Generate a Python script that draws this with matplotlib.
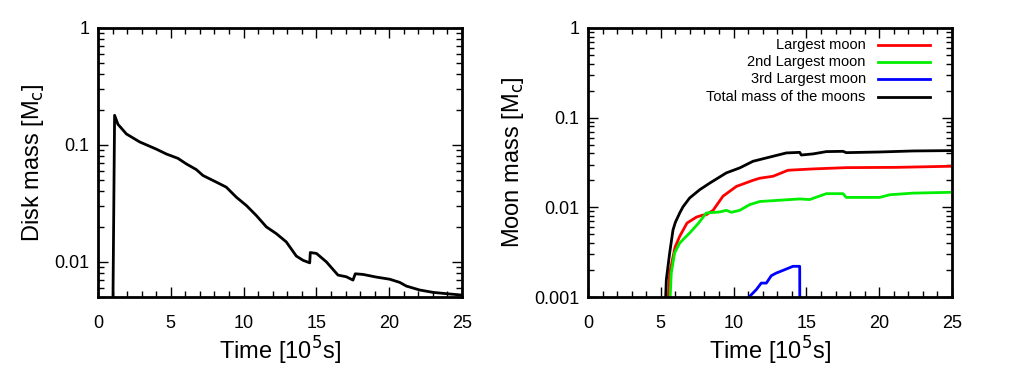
import matplotlib
matplotlib.use("Agg")
import matplotlib.pyplot as plt
from matplotlib.ticker import FixedLocator, FixedFormatter, LogLocator, MultipleLocator, NullFormatter

plt.rcParams['font.family'] = ['Liberation Sans', 'DejaVu Sans']

# Disk mass (left panel)
disk_t = [1.03, 1.03, 1.14, 1.37, 1.95, 2.86, 4.0, 4.69, 5.49, 6.07, 6.75, 7.21, 8.13, 8.81,
          9.5, 10.19, 10.87, 11.56, 12.25, 12.93, 13.62, 14.08, 14.54, 14.58, 15.0, 15.68,
          16.48, 17.05, 17.51, 17.67, 18.2, 19.12, 20.03, 20.72, 21.18, 22.09, 23.0, 23.92, 24.95]
disk_m = [0.001, 0.005, 0.179, 0.150, 0.124, 0.106, 0.092, 0.0836, 0.0767, 0.0687, 0.0615, 0.0547,
          0.048, 0.0435, 0.0357, 0.0303, 0.0249, 0.0199, 0.0174, 0.0148, 0.0112, 0.0103, 0.0098,
          0.012, 0.0118, 0.0100, 0.0077, 0.00745, 0.00698, 0.0079, 0.0078, 0.0074, 0.0071,
          0.00667, 0.0062, 0.00574, 0.00548, 0.00534, 0.0052]

# Moon masses (right panel)
total_t = [5.27, 5.38, 5.61, 5.84, 6.0, 6.30, 6.52, 6.98, 7.67, 8.38, 9.5, 10.42, 11.33, 12.71,
           13.62, 14.54, 14.65, 15.45, 16.37, 17.51, 17.74, 20.03, 22.32, 24.95]
total_m = [0.0005, 0.00156, 0.0031, 0.0056, 0.0068, 0.00865, 0.0101, 0.0127, 0.0157, 0.0187,
           0.0242, 0.0275, 0.0326, 0.0371, 0.0404, 0.041, 0.0383, 0.0394, 0.0418, 0.0421, 0.0407,
           0.0414, 0.0425, 0.0429]

largest_t = [5.43, 5.61, 5.98, 6.30, 6.8, 7.46, 7.9, 8.13, 8.59, 9.27, 10.19, 11.33, 11.79, 12.71,
             13.74, 15.45, 17.74, 21.18, 24.95]
largest_m = [0.0005, 0.00185, 0.0036, 0.00475, 0.00668, 0.0078, 0.0082, 0.00828, 0.00926, 0.0133,
             0.0171, 0.020, 0.0211, 0.0222, 0.0259, 0.0268, 0.0277, 0.0279, 0.0287]

second_t = [5.56, 5.72, 5.95, 6.30, 6.98, 7.56, 8.13, 9.04, 9.5, 9.84, 10.42, 11.1, 11.79, 13.16,
            14.54, 15.22, 16.37, 17.51, 17.74, 20.03, 20.72, 22.32, 24.95]
second_m = [0.0005, 0.00185, 0.0031, 0.004, 0.00517, 0.00657, 0.00865, 0.00887, 0.00926, 0.0088,
            0.00926, 0.0107, 0.0116, 0.012, 0.0124, 0.0122, 0.0142, 0.0142, 0.0129, 0.0129, 0.0138,
            0.0144, 0.0147]

third_t = [11.06, 11.56, 11.9, 12.25, 12.59, 12.93, 13.39, 14.08, 14.54, 14.55]
third_m = [0.001, 0.00121, 0.00143, 0.00143, 0.00173, 0.00185, 0.00198, 0.0022, 0.0022, 0.0005]

legend_labels = ["Largest moon", "2nd Largest moon", "3rd Largest moon", "Total mass of the moons"]
legend_colors = ["#ff0000", "#00ee00", "#0000ff", "black"]

fig = plt.figure(figsize=(10.24, 3.88), dpi=100)
ax1 = fig.add_axes([0.0957, 0.2345, 0.3555, 0.6935])
ax2 = fig.add_axes([0.5742, 0.2345, 0.3555, 0.6935])


def style(ax, ymin, yticks, ylabels):
    ax.set_yscale('log')
    ax.set_xlim(0, 25)
    ax.set_ylim(ymin, 1)
    ax.xaxis.set_major_locator(MultipleLocator(5))
    ax.xaxis.set_minor_locator(MultipleLocator(1))
    ax.yaxis.set_major_locator(FixedLocator(yticks))
    ax.yaxis.set_major_formatter(FixedFormatter(ylabels))
    ax.yaxis.set_minor_locator(LogLocator(base=10, subs=range(2, 10)))
    ax.yaxis.set_minor_formatter(NullFormatter())
    ax.tick_params(which='both', direction='in', top=True, right=True, labelsize=13, width=1)
    ax.tick_params(which='major', length=7)
    ax.tick_params(which='minor', length=4)
    ax.tick_params(axis='x', which='major', pad=13)
    ax.tick_params(axis='y', which='major', pad=6)
    for s in ax.spines.values():
        s.set_linewidth(2)
    ax.set_xlabel(r"Time [10$^5$s]", fontsize=17, labelpad=2)


ax1.plot(disk_t, disk_m, color='black', lw=2)
style(ax1, 0.005, [0.01, 0.1, 1], ["0.01", "0.1", "1"])
ax1.set_ylabel(r"Disk mass [M$_\mathrm{c}$]", fontsize=17, labelpad=6)

ax2.plot(largest_t, largest_m, color=legend_colors[0], lw=2)
ax2.plot(second_t, second_m, color=legend_colors[1], lw=2)
ax2.plot(third_t, third_m, color=legend_colors[2], lw=2)
ax2.plot(total_t, total_m, color=legend_colors[3], lw=2)
style(ax2, 0.001, [0.001, 0.01, 0.1, 1], ["0.001", "0.01", "0.1", "1"])
ax2.set_ylabel(r"Moon mass [M$_\mathrm{c}$]", fontsize=17, labelpad=6)

# gnuplot-style key: right-aligned text, sample line on the right
for i, (lab, col) in enumerate(zip(legend_labels, legend_colors)):
    yy = 0.937 - i * 0.064
    ax2.text(0.763, yy, lab, transform=ax2.transAxes, ha='right', va='center', fontsize=10.5)
    ax2.plot([0.797, 0.94], [yy, yy], transform=ax2.transAxes, color=col, lw=2)

fig.savefig("out.png", dpi=100)
